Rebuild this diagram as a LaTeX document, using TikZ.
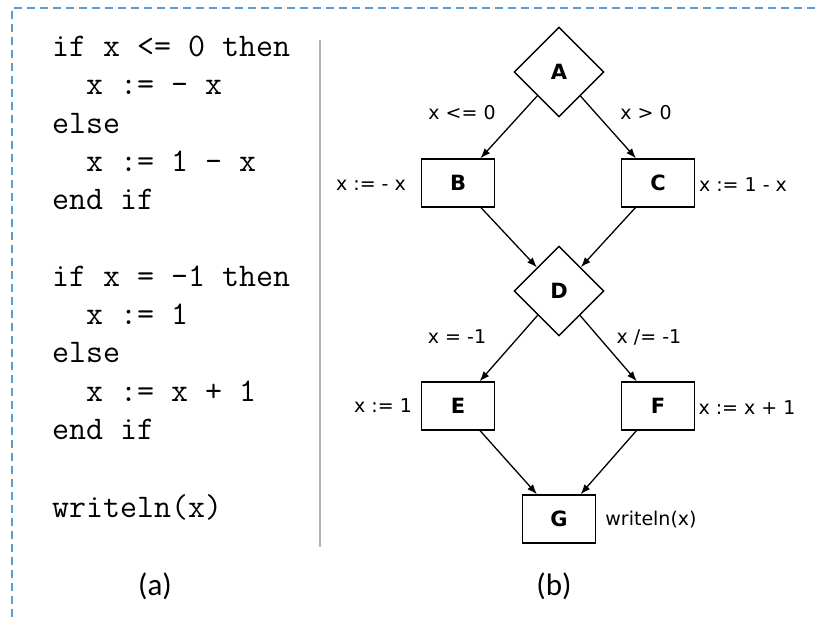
\documentclass[tikz,border=0pt]{standalone}
\usepackage{fontspec}
\setmainfont{DejaVu Sans}
\newfontfamily\capfont{Carlito}
\usetikzlibrary{arrows.meta,shapes.geometric}

\definecolor{frameblue}{RGB}{91,155,213}

\begin{document}
\begin{tikzpicture}[x=1pt, y=-1pt, >={Latex[length=10pt,width=7.5pt]},
  dec/.style={draw, diamond, aspect=1, minimum size=90pt, inner sep=0pt,
              line width=1.4pt, font=\fontsize{21}{25}\selectfont\bfseries},
  blk/.style={draw, rectangle, minimum width=73pt, minimum height=48pt,
              line width=1.4pt, font=\fontsize{21}{25}\selectfont\bfseries},
  lbl/.style={inner sep=0pt, font=\fontsize{19}{23}\selectfont},
  code/.style={anchor=base west, inner sep=0pt, font=\fontsize{33}{38}\selectfont\ttfamily},
  subcap/.style={font=\fontsize{31}{36}\selectfont\capfont},
  edge/.style={->, line width=1.3pt}]
\useasboundingbox (0,0) rectangle (817,617);
\draw[frameblue, line width=1.8pt, dash pattern=on 8pt off 5pt] (12,617) |- (817,8);
\draw[gray!60, line width=1.5pt] (320,40) -- (320,547);
% (a) source code
\node[code] (c1) at (52,57) {if x <= 0 then};
\node[code] (c2) at (86,95) {x := - x};
\node[code] (c3) at (52,134) {else};
\node[code] (c4) at (86,172) {x := 1 - x};
\node[code] (c5) at (52,210) {end if};
\node[code] (c6) at (52,287) {if x = -1 then};
\node[code] (c7) at (86,325) {x := 1};
\node[code] (c8) at (52,363) {else};
\node[code] (c9) at (86,402) {x := x + 1};
\node[code] (c10) at (52,440) {end if};
\node[code] (c11) at (52,517) {writeln(x)};
% (b) flow graph
\node[dec] (A) at (559,72) {A};
\node[blk] (B) at (458,183) {B};
\node[blk] (C) at (658,183) {C};
\node[dec] (D) at (559,291) {D};
\node[blk] (E) at (458,406) {E};
\node[blk] (F) at (658,406) {F};
\node[blk] (G) at (559,519) {G};
\node[lbl] (lAB) at (462,113) {x <= 0};
\node[lbl] (lAC) at (646,113) {x > 0};
\node[lbl] (lB) at (371,185) {x := - x};
\node[lbl] (lC) at (743,185) {x := 1 - x};
\node[lbl] (lDE) at (457,337) {x = -1};
\node[lbl] (lDF) at (649,337) {x /= -1};
\node[lbl] (lE) at (383,406) {x := 1};
\node[lbl] (lF) at (747,408) {x := x + 1};
\node[lbl] (lG) at (651,520) {writeln(x)};
\draw[edge] (A) -- (B);
\draw[edge] (A) -- (C);
\draw[edge] (B) -- (D);
\draw[edge] (C) -- (D);
\draw[edge] (D) -- (E);
\draw[edge] (D) -- (F);
\draw[edge] (E) -- (G);
\draw[edge] (F) -- (G);
% captions
\node[subcap] (capa) at (155,586) {(a)};
\node[subcap] (capb) at (554,586) {(b)};
\end{tikzpicture}
\end{document}
